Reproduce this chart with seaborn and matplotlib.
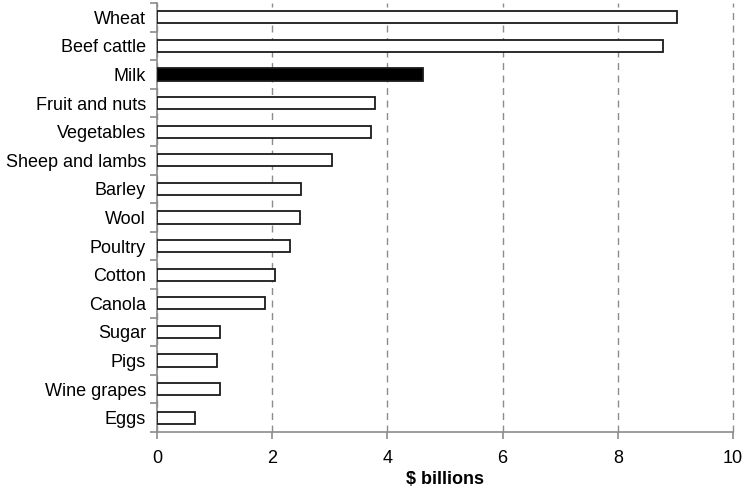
import matplotlib
matplotlib.use("Agg")
import matplotlib.pyplot as plt
import seaborn as sns
import pandas as pd
from matplotlib.ticker import FixedLocator

categories = ["Wheat", "Beef cattle", "Milk", "Fruit and nuts", "Vegetables",
              "Sheep and lambs", "Barley", "Wool", "Poultry", "Cotton",
              "Canola", "Sugar", "Pigs", "Wine grapes", "Eggs"]
values = [9.02, 8.79, 4.62, 3.78, 3.71, 3.03, 2.50, 2.48, 2.31, 2.04,
          1.88, 1.09, 1.04, 1.09, 0.66]
highlight = "Milk"
xticks = [0, 2, 4, 6, 8, 10]

sns.set_style("white")
plt.rcParams['font.family'] = ['Liberation Sans Narrow', 'Liberation Sans', 'DejaVu Sans']
plt.rcParams['text.color'] = 'black'
plt.rcParams['xtick.color'] = 'black'
plt.rcParams['ytick.color'] = 'black'
plt.rcParams['axes.labelcolor'] = 'black'

df = pd.DataFrame({"cat": categories, "val": values})
palette = {c: ("black" if c == highlight else "white") for c in categories}

fig = plt.figure(figsize=(7.43, 4.9), dpi=100)
ax = fig.add_axes([157/743, 1 - 432/490, (733-157)/743, (432-3)/490])

sns.barplot(data=df, x="val", y="cat", hue="cat", palette=palette, legend=False,
            edgecolor="#1a1a1a", linewidth=1.3, width=0.42, ax=ax, zorder=3)

ax.set_xlim(0, 10)
ax.set_ylim(len(categories) - 0.5, -0.5)
ax.set_xticks(xticks)
ax.set_xticklabels([str(t) for t in xticks], fontsize=13)
ax.xaxis.grid(True, linestyle=(0, (5, 4)), color="#8c8c8c", linewidth=1)
ax.yaxis.grid(False)
ax.set_axisbelow(True)
for gl in ax.get_xgridlines():
    gl.set_clip_on(False)

ax.tick_params(axis="y", which="major", left=False, length=0, labelsize=13, pad=8)
ax.yaxis.set_minor_locator(FixedLocator([i - 0.5 for i in range(len(categories) + 1)]))
ax.tick_params(axis="y", which="minor", left=True, length=5, color="#8c8c8c",
               width=1.2, direction="out")
ax.tick_params(axis="x", which="major", bottom=True, length=5, color="#8c8c8c",
               labelcolor="black", width=1.2, direction="out", pad=8)

for s in ["top", "right"]:
    ax.spines[s].set_visible(False)
for s in ["left", "bottom"]:
    ax.spines[s].set_color("#8c8c8c")
    ax.spines[s].set_linewidth(1.2)

ax.set_ylabel("")
ax.set_xlabel(r"\$ billions", fontsize=13, fontweight="bold", labelpad=3)

fig.savefig("out.png", dpi=100)
